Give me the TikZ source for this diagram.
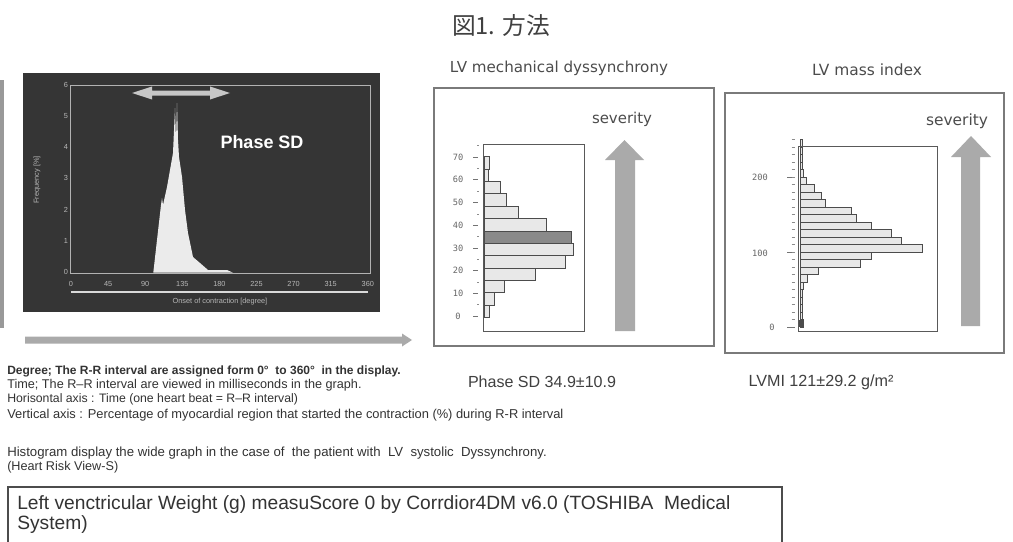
\documentclass[tikz,border=0pt]{standalone}
\usepackage{fontspec}
\setmainfont{Liberation Sans}
\newfontfamily\cjk{Noto Sans CJK JP}
\newfontfamily\dejavu{DejaVu Sans}
\newfontfamily\dejamono{DejaVu Sans Mono}
\definecolor{txt}{HTML}{333333}
\definecolor{arrowgrey}{HTML}{AAAAAA}
\definecolor{scr}{HTML}{353535}
\definecolor{barfill}{HTML}{E8E8E8}
\definecolor{bardark}{HTML}{8A8A8A}
\definecolor{boxline}{HTML}{7A7A7A}
\tikzset{
  panelbox/.style={draw=boxline, line width=0.9pt},
  plotframe/.style={draw=black!65, line width=0.6pt},
  hbar/.style={draw=black!70, fill=barfill, line width=0.5pt},
  hbardark/.style={draw=black!70, fill=bardark, line width=0.5pt},
  sevarrow/.style={fill=arrowgrey, draw=none},
  axlbl/.style={font=\dejamono\fontsize{6.5}{7}\selectfont, text=black!60, inner sep=0},
  scrlbl/.style={font=\fontsize{5.5}{6}\selectfont, text=white!72!black, inner sep=0},
  note/.style={font=\fontsize{9.5}{10}\selectfont, text=txt, anchor=base west, inner sep=0},
  lbl/.style={text=black!70, inner sep=0},
}
\begin{document}
\begin{tikzpicture}[x=0.75pt,y=-0.75pt]
\useasboundingbox (0,0) rectangle (1013,542);
\fill[white] (0,0) rectangle (1013,542);

% title
\node[lbl, text=black!75] (title) at (501,25) {\resizebox{73.5pt}{!}{\cjk 図1. 方法}};

% left vertical bar
\fill[black!40] (0,80) rectangle (4,328);

% ---------- screenshot ----------
\fill[scr] (23,73) rectangle (380,312);
\draw[white!70!black, line width=0.6pt] (70,85) rectangle (370,273);
\foreach \v in {0,...,6} {
  \node[scrlbl] (fy\v) at (66,{272-31.2*\v}) {\v};
}
\foreach \v [count=\i from 0] in {0,45,90,135,180,225,270,315,360} {
  \node[scrlbl] (fx\i) at ({71+37.1*\i},284) {\v};
}
\draw[white!85!black, line width=1.5pt] (71,292) -- (368,292);
\node[scrlbl] (xlab) at (220,302) {Onset of contraction [degree]};
\node[scrlbl, rotate=90] (ylab) at (37,180) {Frequency [\%]};
% peak
\fill[white!92!black] (153.3,272.7) -- (157,240) -- (161,205) -- (162,198) -- (163,205) -- (167,187) -- (170,170) -- (173,153)
  -- (175,108) -- (176,140) -- (177,103) -- (178,140) -- (179,157) -- (182,177) -- (185,210) -- (188,233)
  -- (193,257) -- (200,263) -- (208,270) -- (227,270) -- (233,272.7) -- cycle;
% double arrow
\fill[white!78!black] (132,93) -- (152,86.5) -- (152,90.5) -- (210,90.5) -- (210,86.5) -- (230,93)
  -- (210,99.5) -- (210,95.5) -- (152,95.5) -- (152,99.5) -- cycle;
\node[text=white, inner sep=0] (psd) at (262,142) {\resizebox{62.25pt}{!}{\bfseries Phase SD}};

% bottom grey arrow
\fill[arrowgrey] (25,336.5) -- (402,336.5) -- (402,333.5) -- (412,340) -- (402,346.5) -- (402,343.5) -- (25,343.5) -- cycle;

% ---------- middle panel ----------
\node[lbl] (t2) at (559,68) {\resizebox{163.5pt}{!}{\dejavu LV mechanical dyssynchrony}};
\draw[panelbox] (434,88) rectangle (714,346);
\node[lbl] (sev2) at (622,119) {\resizebox{45pt}{!}{\dejavu severity}};
\fill[sevarrow] (615,331) -- (615,160) -- (605,160) -- (624.5,140) -- (644,160) -- (635,160) -- (635,331) -- cycle;
\foreach \r [count=\i from 0] in {489,494,504,535,565,573,571,546,518,506,500,488,489} {
  \draw[hbar] (484,{317.3-12.35*\i}) rectangle (\r,{317.3-12.35*(\i+1)});
}
\draw[hbardark] (484,{317.3-12.35*6}) rectangle (571,{317.3-12.35*7});
\draw[plotframe] (483,144) rectangle (584,331);
\foreach \v in {0,10,...,70} {
  \node[axlbl] (m\v) at (458,{316-2.27*\v}) {\v};
  \draw[black!55, line width=0.5pt] (473,{316-2.27*\v}) -- (478,{316-2.27*\v});
}
\foreach \v in {5,15,...,75} {
  \draw[black!45, line width=0.5pt] (477,{316-2.27*\v}) -- (478.5,{316-2.27*\v});
}

% ---------- right panel ----------
\node[lbl] (t3) at (867,70) {\resizebox{82.5pt}{!}{\dejavu LV mass index}};
\draw[panelbox] (725,93) rectangle (1004,353);
\node[lbl] (sev3) at (957,121) {\resizebox{46.5pt}{!}{\dejavu severity}};
\fill[sevarrow] (961,326) -- (961,157) -- (951,157) -- (971,136) -- (991,157) -- (980,157) -- (980,326) -- cycle;
\foreach \r [count=\i from 0] in {803,802,802,802,802.5,803,807.3,818.3,860.7,871,922.3,901.7,891.7,871,856.7,851.7,825,821,814,806.7,803,802.5,802,802,802} {
  \draw[hbar] (800,{327-7.5*\i}) rectangle (\r,{327-7.5*(\i+1)});
}
\fill[black!70] (799,327) rectangle (803,319.5);
\draw[plotframe] (798,146) rectangle (937,331);
\node[axlbl] (r200) at (760,177) {200};
\node[axlbl] (r100) at (760,253) {100};
\node[axlbl] (r0) at (772,327) {0};
\foreach \v in {0,100,200} {
  \draw[black!55, line width=0.5pt] (787,{327-0.75*\v}) -- (795,{327-0.75*\v});
}
\foreach \k in {1,...,25} {
  \draw[black!45, line width=0.5pt] (791.5,{327-7.5*\k}) -- (795,{327-7.5*\k});
}

% ---------- results ----------
\node[lbl, text=black!75] (res2) at (542,382) {\resizebox{111pt}{!}{Phase SD 34.9±10.9}};
\node[lbl, text=black!75] (res3) at (821,382) {\resizebox{108.75pt}{!}{LVMI 121±29.2 g/m²}};

% ---------- notes ----------
\node[note, font=\fontsize{9}{10}\selectfont\bfseries] (n1) at (7,374.5) {Degree; The R-R interval are assigned form 0°\ \ to 360°\ \ in the display.};
\node[note] (n2) at (7,388.5) {Time; The R–R interval are viewed in milliseconds in the graph.};
\node[note, font=\fontsize{9.2}{10}\selectfont] (n3) at (7,402.5) {Horisontal axis : Time (one heart beat = R–R interval)};
\node[note, font=\fontsize{9.65}{10}\selectfont] (n4) at (7,418) {Vertical axis : Percentage of myocardial region that started the contraction (\%) during R-R interval};
\node[note, font=\fontsize{9.9}{10}\selectfont] (n5) at (7,456.5) {Histogram display the wide graph in the case of\ \ the patient with\ \ LV\ \ systolic\ \ Dyssynchrony.};
\node[note] (n6) at (7,470.5) {(Heart Risk View-S)};

% ---------- bottom box ----------
\draw[black!70, line width=0.8pt] (8,546) -- (8,487) -- (782,487) -- (782,546);
\node[note, font=\fontsize{14.4}{15}\selectfont, text=black!80] (b1) at (17,509) {Left venctricular Weight (g) measuScore 0 by Corrdior4DM v6.0 (TOSHIBA\ \ Medical};
\node[note, font=\fontsize{14.4}{15}\selectfont, text=black!80] (b2) at (17,529) {System)};
\end{tikzpicture}
\end{document}
